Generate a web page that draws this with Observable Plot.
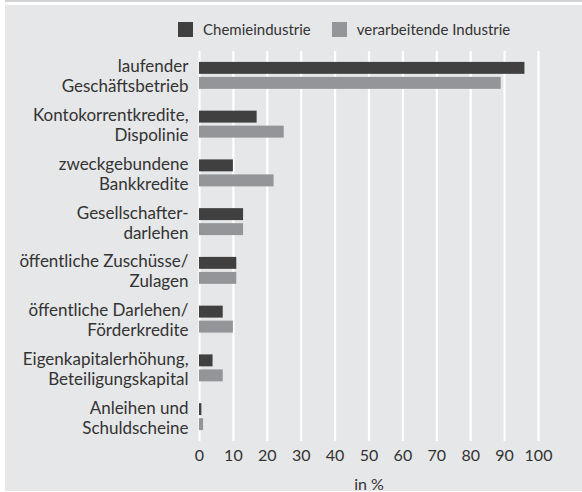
<!DOCTYPE html>
<html>
<head>
<meta charset="utf-8">
<script src="https://cdn.jsdelivr.net/npm/d3@7"></script>
<script src="https://cdn.jsdelivr.net/npm/@observablehq/plot@0.6"></script>
<style>
  html, body { margin: 0; padding: 0; background: #ffffff; overflow: hidden; }
  #wrap { position: relative; width: 582px; height: 492px; overflow: hidden; font-family: Lato, "Open Sans", sans-serif; }
  #topstrip { position: absolute; left: 5px; top: 0; width: 577px; height: 2px; background: #d2d3d5; }
  #panel { position: absolute; left: 5px; top: 5px; width: 577px; height: 486px; background: #e6e7e8; }
  #legend { position: absolute; left: 178px; top: 20px; display: flex; align-items: center; font-size: 15px; color: #333; white-space: nowrap; }
  #legend .sw { width: 15px; height: 15px; display: inline-block; margin-right: 10px; }
  #legend .item { display: flex; align-items: center; margin-right: 21px; }
  #chart { position: absolute; left: 0; top: 0; }
</style>
</head>
<body>
<div id="wrap">
  <div id="topstrip"></div>
  <div id="panel"></div>
  <div id="legend"></div>
  <div id="chart"></div>
</div>
<script>
const categories = [
  "laufender\nGeschäftsbetrieb",
  "Kontokorrentkredite,\nDispolinie",
  "zweckgebundene\nBankkredite",
  "Gesellschafter-\ndarlehen",
  "öffentliche Zuschüsse/\nZulagen",
  "öffentliche Darlehen/\nFörderkredite",
  "Eigenkapitalerhöhung,\nBeteiligungskapital",
  "Anleihen und\nSchuldscheine"
];
const chemieindustrie = [96, 17, 10, 13, 11, 7, 4, 0.7];
const verarbeitendeIndustrie = [89, 25, 22, 13, 11, 10, 7, 1.2];
const seriesNames = ["Chemieindustrie", "verarbeitende Industrie"];
const seriesColors = ["#404041", "#939598"];
const xTicks = [0, 10, 20, 30, 40, 50, 60, 70, 80, 90, 100];
const xLabel = "in %";

const rows = [];
categories.forEach((c, i) => {
  rows.push({category: c, series: seriesNames[0], value: chemieindustrie[i]});
  rows.push({category: c, series: seriesNames[1], value: verarbeitendeIndustrie[i]});
});

// legend
const legend = document.getElementById("legend");
seriesNames.forEach((s, i) => {
  const item = document.createElement("div");
  item.className = "item";
  const sw = document.createElement("span");
  sw.className = "sw";
  sw.style.background = seriesColors[i];
  const t = document.createElement("span");
  t.textContent = s;
  item.appendChild(sw);
  item.appendChild(t);
  legend.appendChild(item);
});

const half = 15; // bar 12px + gap 3px inside a 27px band
const chart = Plot.plot({
  width: 582,
  height: 492,
  marginTop: 51,
  marginBottom: 51,
  marginLeft: 199,
  marginRight: 44,
  style: {background: "transparent", fontFamily: "Lato, 'Open Sans', sans-serif", fontSize: "16px", color: "#333"},
  x: {domain: [0, 100], ticks: xTicks, tickSize: 0, tickPadding: 8, label: null, tickFormat: d => String(d)},
  y: {domain: categories, type: "band", paddingInner: 0.447, paddingOuter: 0.2235, round: false, axis: null},
  color: {domain: seriesNames, range: seriesColors},
  marks: [
    Plot.ruleX(xTicks, {x: d => d, stroke: "#ffffff", strokeWidth: 2.2}),
    Plot.barX(rows.filter(d => d.series === seriesNames[0]), {x: "value", y: "category", fill: "series", insetTop: 0, insetBottom: half}),
    Plot.barX(rows.filter(d => d.series === seriesNames[1]), {x: "value", y: "category", fill: "series", insetTop: half, insetBottom: 0}),
    Plot.text(categories, {x: 0, y: d => d, text: d => d, textAnchor: "end", dx: -11, lineHeight: 1.18, fontSize: 17, fill: "#333"}),
    Plot.text([xLabel], {x: 50, frameAnchor: "bottom", text: d => d, dy: 48, fontSize: 16, fill: "#333"})
  ]
});
document.getElementById("chart").appendChild(chart);
</script>
</body>
</html>
